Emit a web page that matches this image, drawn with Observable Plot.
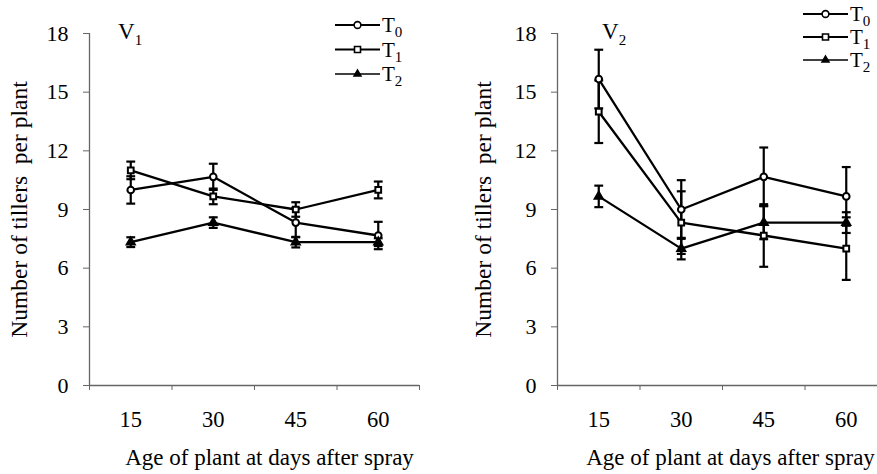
<!DOCTYPE html>
<html>
<head>
<meta charset="utf-8">
<script src="https://cdn.jsdelivr.net/npm/d3@7"></script>
<script src="https://cdn.jsdelivr.net/npm/@observablehq/plot@0.6"></script>
<style>
  html, body { margin: 0; padding: 0; background: #fff; overflow: hidden; }
  #wrap { position: relative; width: 877px; height: 474px; overflow: hidden; background: #fff; }
  #wrap > svg, #wrap > div { position: absolute; top: 0; }
  #wrap svg, #wrap svg text, #wrap svg g { font-family: "Liberation Serif", "Times New Roman", serif !important; }
</style>
</head>
<body>
<div id="wrap"></div>
<script>
// ---- data ----
const days = [15, 30, 45, 60];
const series = ["T0", "T1", "T2"];
const yTicks = [0, 3, 6, 9, 12, 15, 18];
const panels = ["V1", "V2"];

const v1T0 = [10.0, 10.67, 8.33, 7.67];
const v1T1 = [11.0, 9.67, 9.0, 10.0];
const v1T2 = [7.33, 8.33, 7.33, 7.33];
const v1T0err = [0.7, 0.67, 0.75, 0.7];
const v1T1err = [0.45, 0.4, 0.37, 0.43];
const v1T2err = [0.25, 0.27, 0.27, 0.2];

const v2T0 = [15.67, 9.0, 10.67, 9.67];
const v2T1 = [14.0, 8.33, 7.67, 7.0];
const v2T2 = [9.67, 7.0, 8.33, 8.33];
const v2T0err = [1.5, 1.5, 1.5, 1.5];
const v2T1err = [1.6, 1.6, 1.6, 1.6];
const v2T2err = [0.55, 0.55, 0.85, 0.53];

const yTitle = "Number of tillers  per plant";
const xTitle = "Age of plant at days after spray";

function rows(means, errs) {
  const out = [];
  series.forEach((s, i) => days.forEach((d, j) => out.push({series: s, day: d, value: means[i][j], err: errs[i][j]})));
  return out;
}
const dataV1 = rows([v1T0, v1T1, v1T2], [v1T0err, v1T1err, v1T2err]);
const dataV2 = rows([v2T0, v2T1, v2T2], [v2T0err, v2T1err, v2T2err]);

// band edges of the day categories (step 15)
const step = days[1] - days[0];
const edges = [...days.map(d => d - step / 2), days[days.length - 1] + step / 2];
const xDomain = [edges[0], edges[edges.length - 1]];

const capSymbol = {
  draw(context, size) {
    const w = Math.sqrt(size) / 2;
    context.moveTo(-w, 0);
    context.lineTo(w, 0);
  }
};
const symbolOf = {T0: "circle", T1: "square", T2: "triangle"};
const fillOf = {T0: "white", T1: "white", T2: "black"};
const sizeOf = {T0: 4.4, T1: 4.2, T2: 3.6};

const FONT = "'Liberation Serif', 'Times New Roman', serif";

function panel(data, opts) {
  return Plot.plot({
    width: opts.width,
    height: 474,
    marginLeft: opts.marginLeft,
    marginRight: opts.marginRight,
    marginTop: 33,
    marginBottom: 89,
    style: {fontFamily: FONT, fontSize: "22px", color: "#000", background: "transparent", overflow: "visible"},
    x: {type: "linear", domain: xDomain},
    y: {domain: [0, 18]},
    marks: [
      Plot.ruleX([xDomain[0]], {y1: 0, y2: 18, stroke: "#666", strokeWidth: 1.3}),
      Plot.ruleY([0], {stroke: "#666", strokeWidth: 1.3}),
      Plot.axisY({ticks: yTicks, tickSize: 6, tickPadding: 15, stroke: "#666", fill: "#000", label: null}),
      Plot.axisY({ticks: [], fill: "#000", fontSize: 23.5,
                  label: yTitle, labelAnchor: "center", labelArrow: "none", labelOffset: opts.yLabelOffset}),
      Plot.axisX({ticks: edges, tickSize: 5, tickFormat: () => "", stroke: "#666", label: null}),
      Plot.axisX({ticks: days, tickSize: 0, tickPadding: 26, fill: "#000", fontSize: 22.5, label: null}),
      Plot.text([xTitle], {frameAnchor: "bottom", lineAnchor: "bottom", dy: 79, dx: opts.xLabelDx,
                           fontSize: 23, fill: "#000", text: d => d}),
      Plot.ruleX(data, {x: "day", y1: d => d.value - d.err, y2: d => d.value + d.err, stroke: "#000", strokeWidth: 2.2}),
      Plot.dot(data, {x: "day", y: d => d.value - d.err, symbol: capSymbol, r: 5, stroke: "#000", strokeWidth: 2.2}),
      Plot.dot(data, {x: "day", y: d => d.value + d.err, symbol: capSymbol, r: 5, stroke: "#000", strokeWidth: 2.2}),
      Plot.line(data, {x: "day", y: "value", z: "series", stroke: "#000", strokeWidth: 2.3}),
      Plot.dot(data, {x: "day", y: "value", symbol: d => symbolOf[d.series], r: d => sizeOf[d.series],
                      fill: d => fillOf[d.series], stroke: "#000", strokeWidth: 2})
    ]
  });
}

const wrap = document.getElementById("wrap");
const left = panel(dataV1, {width: 438, marginLeft: 89, marginRight: 19, yLabelOffset: 79, xLabelDx: 15});
left.style.left = "0px";
wrap.appendChild(left);
const right = panel(dataV2, {width: 449, marginLeft: 119, marginRight: 0, yLabelOffset: 83, xLabelDx: 8});
right.style.left = "438px";
wrap.appendChild(right);

// overlay: panel labels and legends
const ov = d3.select(wrap).append("svg")
  .attr("width", 877).attr("height", 474)
  .style("left", "0px").style("pointer-events", "none")
  .style("font-family", FONT);

const panelLabelPos = [{x: 118, y: 39}, {x: 602, y: 39}];
panels.forEach((p, i) => {
  const t = ov.append("text").attr("x", panelLabelPos[i].x).attr("y", panelLabelPos[i].y)
    .attr("font-size", 23).attr("fill", "#000");
  t.append("tspan").text(p[0]);
  t.append("tspan").attr("font-size", 15).attr("dy", 6).text(p.slice(1));
});

const legendPos = [{x1: 335, x2: 380, y0: 25, dy: 24.5}, {x1: 803, x2: 848, y0: 14, dy: 23}];
const legendSym = {T0: d3.symbolCircle, T1: d3.symbolSquare, T2: d3.symbolTriangle};
legendPos.forEach(L => {
  series.forEach((s, i) => {
    const y = L.y0 + i * L.dy;
    const g = ov.append("g");
    g.append("line").attr("x1", L.x1).attr("x2", L.x2).attr("y1", y).attr("y2", y)
      .attr("stroke", "#000").attr("stroke-width", s === "T2" ? 1.6 : 2);
    g.append("path").attr("d", d3.symbol(legendSym[s], s === "T2" ? 20 : 36)())
      .attr("transform", `translate(${(L.x1 + L.x2) / 2},${y})`)
      .attr("fill", fillOf[s] === "black" ? "#000" : "#fff").attr("stroke", "#000").attr("stroke-width", 1.6);
    const t = g.append("text").attr("x", L.x2 + 2).attr("y", y + 7).attr("font-size", 21).attr("fill", "#000");
    t.append("tspan").text(s[0]);
    t.append("tspan").attr("font-size", 15).attr("dy", 5).text(s.slice(1));
  });
});
</script>
</body>
</html>
